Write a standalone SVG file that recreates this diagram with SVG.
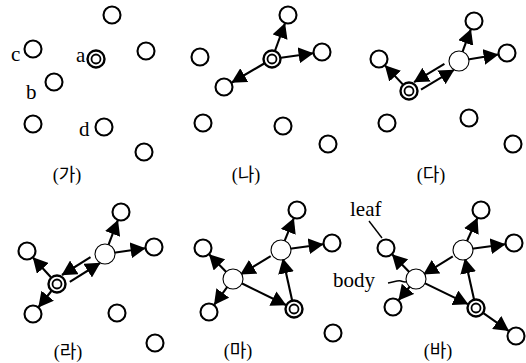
<svg xmlns="http://www.w3.org/2000/svg" width="526" height="363" viewBox="0 0 526 363">
<style>
.n{fill:#fff;stroke:#000;stroke-width:2.1}
.b{fill:#fff;stroke:#000;stroke-width:1.1}
.o{fill:#fff;stroke:#000;stroke-width:2.4}
.i{fill:none;stroke:#000;stroke-width:1.8}
.e{fill:none;stroke:#000;stroke-width:2.1;marker-end:url(#ah)}
.l{fill:none;stroke:#000;stroke-width:1.4}
.t{font-family:"Liberation Serif",serif;font-size:21px;fill:#000}
.p{font-family:"Liberation Serif","Noto Sans CJK KR",serif;font-size:18px;text-anchor:middle;fill:#000}
</style>
<defs>
<marker id="ah" markerUnits="userSpaceOnUse" viewBox="0 0 15 16" markerWidth="15" markerHeight="16" refX="14.5" refY="8" orient="auto"><path d="M0,0 L15,8 L0,16 z" fill="#000"/></marker>
<symbol id="dbl" overflow="visible"><circle class="o" cx="0" cy="0" r="8.5"/><circle class="i" cx="0" cy="0" r="4.5"/></symbol>
</defs>
<g id="connectors">
<path class="e" d="M275.1,50.5 L284.9,23.5"/>
<path class="e" d="M280.9,57.8 L313.1,53.3"/>
<path class="e" d="M264.2,63.5 L231.8,82.5"/>
<path class="e" d="M462.2,52.6 L470.8,29.4"/>
<path class="e" d="M467.9,59.5 L498.1,54.5"/>
<path class="e" d="M402.8,84.4 L385.2,65.6"/>
<path class="e" d="M444.4,63.9 L414.1,82.1"/>
<path class="e" d="M421,89.6 L453.9,69.9"/>
<path class="e" d="M108.2,245.6 L117.8,220.4"/>
<path class="e" d="M113.9,252.7 L145.1,248.3"/>
<path class="e" d="M50.9,277.3 L33.1,257.7"/>
<path class="e" d="M51.4,291.0 L38.6,307.0"/>
<path class="e" d="M90.5,257.2 L62.0,275.0"/>
<path class="e" d="M69.8,281.9 L100.0,263.0"/>
<path class="e" d="M284.3,241.6 L293.7,218.4"/>
<path class="e" d="M289.9,248.8 L323.1,244.2"/>
<path class="e" d="M270.7,256.2 L240.7,274.3"/>
<path class="e" d="M226.7,272.5 L209.3,254.5"/>
<path class="e" d="M227.7,286.3 L214.3,304.7"/>
<path class="e" d="M241.1,283.0 L285.9,305.0"/>
<path class="e" d="M292.1,300.2 L282.9,258.8"/>
<path class="e" d="M466.7,241.8 L477.3,218.2"/>
<path class="e" d="M471.9,248.8 L505.1,244.2"/>
<path class="e" d="M452.8,256.3 L423.7,274.3"/>
<path class="e" d="M409.7,272.5 L392.3,254.5"/>
<path class="e" d="M410.3,286.0 L398.7,300.0"/>
<path class="e" d="M424.1,282.9 L467.9,304.1"/>
<path class="e" d="M474.0,299.2 L465.0,258.8"/>
<path class="e" d="M483.4,313.2 L508.6,330.8"/>
<path class="l" d="M369,221 L382,238"/>
<path class="l" d="M388,283 C394,282 398,280 401,281 S406,283 409,280"/>
</g>
<g id="panel-ga">
<g id="ga-1"><circle class="n" cx="112" cy="15" r="8.5"/></g>
<g id="ga-c"><circle class="n" cx="33" cy="49" r="8.5"/><text class="t" x="11" y="61">c</text></g>
<g id="ga-a"><use href="#dbl" x="96" y="59"/><text class="t" x="76" y="62">a</text></g>
<g id="ga-4"><circle class="n" cx="146" cy="51" r="8.5"/></g>
<g id="ga-b"><circle class="n" cx="54" cy="82" r="8.5"/><text class="t" x="26" y="99">b</text></g>
<g id="ga-6"><circle class="n" cx="33" cy="124" r="8.5"/></g>
<g id="ga-d"><circle class="n" cx="104" cy="127" r="8.5"/><text class="t" x="79" y="136">d</text></g>
<g id="ga-8"><circle class="n" cx="144" cy="152" r="8.5"/></g>
<text class="p" x="67" y="181">(가)</text>
</g>
<g id="panel-na">
<g id="na-1"><circle class="n" cx="288" cy="15" r="8.5"/></g>
<g id="na-a"><use href="#dbl" x="272" y="59"/></g>
<g id="na-3"><circle class="n" cx="322" cy="52" r="8.5"/></g>
<g id="na-4"><circle class="n" cx="224" cy="87" r="8.5"/></g>
<g id="na-5"><circle class="n" cx="200" cy="57" r="8.5"/></g>
<g id="na-6"><circle class="n" cx="203" cy="123" r="8.5"/></g>
<g id="na-7"><circle class="n" cx="283" cy="126" r="8.5"/></g>
<g id="na-8"><circle class="n" cx="328" cy="144" r="8.5"/></g>
<text class="p" x="246" y="181">(나)</text>
</g>
<g id="panel-da">
<g id="da-1"><circle class="n" cx="474" cy="21" r="8.5"/></g>
<g id="da-2"><circle class="n" cx="507" cy="53" r="8.5"/></g>
<g id="da-body"><circle class="b" cx="459" cy="61" r="10"/></g>
<g id="da-a"><use href="#dbl" x="409" y="91"/></g>
<g id="da-5"><circle class="n" cx="379" cy="59" r="8.5"/></g>
<g id="da-6"><circle class="n" cx="387" cy="123" r="8.5"/></g>
<g id="da-7"><circle class="n" cx="469" cy="118" r="8.5"/></g>
<g id="da-8"><circle class="n" cx="513" cy="144" r="8.5"/></g>
<text class="p" x="431" y="181">(다)</text>
</g>
<g id="panel-ra">
<g id="ra-1"><circle class="n" cx="121" cy="212" r="8.5"/></g>
<g id="ra-2"><circle class="n" cx="154" cy="247" r="8.5"/></g>
<g id="ra-body"><circle class="b" cx="105" cy="254" r="10"/></g>
<g id="ra-a"><use href="#dbl" x="57" y="284"/></g>
<g id="ra-5"><circle class="n" cx="27" cy="251" r="8.5"/></g>
<g id="ra-6"><circle class="n" cx="33" cy="314" r="8.5"/></g>
<g id="ra-7"><circle class="n" cx="117" cy="313" r="8.5"/></g>
<g id="ra-8"><circle class="n" cx="155" cy="343" r="8.5"/></g>
<text class="p" x="68" y="358">(라)</text>
</g>
<g id="panel-ma">
<g id="ma-1"><circle class="n" cx="297" cy="210" r="8.5"/></g>
<g id="ma-2"><circle class="n" cx="332" cy="243" r="8.5"/></g>
<g id="ma-body1"><circle class="b" cx="281" cy="250" r="10"/></g>
<g id="ma-body2"><circle class="b" cx="233" cy="279" r="10"/></g>
<g id="ma-5"><circle class="n" cx="203" cy="248" r="8.5"/></g>
<g id="ma-6"><circle class="n" cx="209" cy="312" r="8.5"/></g>
<g id="ma-a"><use href="#dbl" x="294" y="309"/></g>
<g id="ma-8"><circle class="n" cx="333" cy="333" r="8.5"/></g>
<text class="p" x="238" y="357">(마)</text>
</g>
<g id="panel-ba">
<g id="ba-1"><circle class="n" cx="481" cy="210" r="8.5"/></g>
<g id="ba-2"><circle class="n" cx="514" cy="243" r="8.5"/></g>
<g id="ba-body1"><circle class="b" cx="463" cy="250" r="10"/></g>
<g id="ba-body2"><circle class="b" cx="416" cy="279" r="10"/><text class="t" x="333" y="287">body</text></g>
<g id="ba-leaf"><circle class="n" cx="386" cy="248" r="8.5"/><text class="t" x="350" y="216">leaf</text></g>
<g id="ba-6"><circle class="n" cx="393" cy="307" r="8.5"/></g>
<g id="ba-a"><use href="#dbl" x="476" y="308"/></g>
<g id="ba-8"><circle class="n" cx="516" cy="336" r="8.5"/></g>
<text class="p" x="438" y="357">(바)</text>
</g>
</svg>
